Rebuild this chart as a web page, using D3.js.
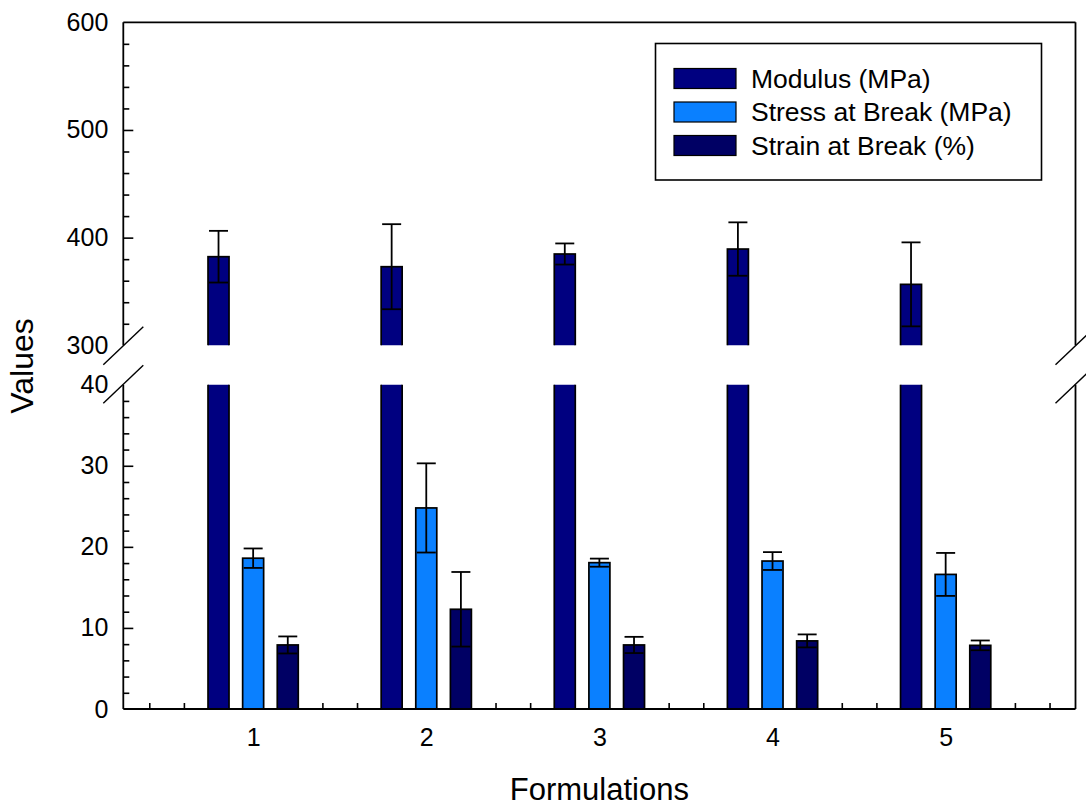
<!DOCTYPE html>
<html>
<head>
<meta charset="utf-8">
<script src="https://cdn.jsdelivr.net/npm/d3@7"></script>
<style>
  html, body { margin: 0; padding: 0; background: #fff; }
  svg { display: block; font-family: "Liberation Sans", Arial, sans-serif; }
</style>
</head>
<body>
<svg id="chart" width="1086" height="808"></svg>
<script>
// Mechanical properties of five formulations (mean ± standard deviation)
const formulations = [1, 2, 3, 4, 5];
const seriesNames = ["Modulus (MPa)", "Stress at Break (MPa)", "Strain at Break (%)"];
const seriesColors = ["#000080", "#0A80FF", "#000064"];

const modulus = [382.3, 373.0, 384.8, 389.4, 356.6];
const modulusErr = [24.0, 39.5, 9.8, 24.8, 39.0];
const stress = [18.6, 24.8, 18.05, 18.25, 16.6];
const stressErr = [1.2, 5.5, 0.5, 1.1, 2.65];
const strain = [7.9, 12.3, 7.9, 8.4, 7.85];
const strainErr = [1.05, 4.6, 1.0, 0.8, 0.6];

const upperTicks = [600, 500, 400, 300];
const lowerTicks = [40, 30, 20, 10, 0];

const svg = d3.select("#chart");

// Layout
const plotLeft = 123.3, plotRight = 1075.5, plotTop = 22.3, plotBottom = 709;
const breakTop = 345.3, breakBottom = 384.7;

const x = d3.scaleLinear().domain([0.25, 5.75]).range([plotLeft, plotRight]);
const yUpper = d3.scaleLinear().domain([300, 600]).range([breakTop, plotTop]);
const yLower = d3.scaleLinear().domain([0, 40]).range([plotBottom, breakBottom]);

const barW = 21;
const offsets = [-0.2, 0, 0.2];

const series = [
  { values: modulus, errs: modulusErr },
  { values: stress, errs: stressErr },
  { values: strain, errs: strainErr }
];

// Clip regions for the two segments of the broken axis
const defs = svg.append("defs");
defs.append("clipPath").attr("id", "clipUpper")
  .append("rect").attr("x", plotLeft).attr("y", plotTop - 10)
  .attr("width", plotRight - plotLeft).attr("height", breakTop - plotTop + 10);
defs.append("clipPath").attr("id", "clipLower")
  .append("rect").attr("x", plotLeft).attr("y", breakBottom)
  .attr("width", plotRight - plotLeft).attr("height", plotBottom - breakBottom + 10);

const bars = [];
series.forEach((s, si) => {
  s.values.forEach((v, i) => {
    bars.push({ si, f: formulations[i], v, e: s.errs[i] });
  });
});

// Pick the segment a value belongs to
function segScale(v) { return v >= 300 ? yUpper : yLower; }

// Lower segment bars (tall ones run past the break and are clipped)
const gLower = svg.append("g").attr("clip-path", "url(#clipLower)");
gLower.selectAll("rect").data(bars).join("rect")
  .attr("x", d => x(d.f + offsets[d.si]) - barW / 2)
  .attr("width", barW)
  .attr("y", d => d.v > 40 ? yLower(45) : yLower(d.v))
  .attr("height", d => yLower(0) - (d.v > 40 ? yLower(45) : yLower(d.v)))
  .attr("fill", d => seriesColors[d.si])
  .attr("stroke", "#000").attr("stroke-width", 1.7);

// Upper segment bars
const upperBars = bars.filter(d => d.v >= 300);
const gUpper = svg.append("g").attr("clip-path", "url(#clipUpper)");
gUpper.selectAll("rect").data(upperBars).join("rect")
  .attr("x", d => x(d.f + offsets[d.si]) - barW / 2)
  .attr("width", barW)
  .attr("y", d => yUpper(d.v))
  .attr("height", d => yUpper(290) - yUpper(d.v))
  .attr("fill", d => seriesColors[d.si])
  .attr("stroke", "#000").attr("stroke-width", 1.7);

// Error bars: stem from mean-err to mean+err with caps at both ends
const gErr = svg.append("g").attr("stroke", "#000").attr("stroke-width", 1.8).attr("fill", "none");
bars.forEach(d => {
  const ys = segScale(d.v);
  const cx = x(d.f + offsets[d.si]);
  const yHi = ys(d.v + d.e), yLo = ys(d.v - d.e);
  gErr.append("line").attr("x1", cx).attr("x2", cx).attr("y1", yHi).attr("y2", yLo);
  gErr.append("line").attr("x1", cx - barW / 2 + 1).attr("x2", cx + barW / 2 - 1).attr("y1", yHi).attr("y2", yHi);
  gErr.append("line").attr("x1", cx - barW / 2 + 1).attr("x2", cx + barW / 2 - 1).attr("y1", yLo).attr("y2", yLo);
});

// Frame: top, bottom and the two broken sides
const frame = svg.append("g").attr("stroke", "#000").attr("stroke-width", 1.8).attr("fill", "none");
frame.append("line").attr("x1", plotLeft).attr("x2", plotRight).attr("y1", plotTop).attr("y2", plotTop);
frame.append("line").attr("x1", plotLeft).attr("x2", plotRight).attr("y1", plotBottom).attr("y2", plotBottom);
[plotLeft, plotRight].forEach(xx => {
  frame.append("line").attr("x1", xx).attr("x2", xx).attr("y1", plotTop).attr("y2", breakTop);
  frame.append("line").attr("x1", xx).attr("x2", xx).attr("y1", breakBottom).attr("y2", plotBottom);
  [breakTop + 0.5, breakBottom - 0.5].forEach(yy => {
    frame.append("line").attr("stroke-width", 1.4)
      .attr("x1", xx - 20).attr("y1", yy + 19)
      .attr("x2", xx + 20).attr("y2", yy - 19);
  });
});

// Axis styling shared by all axis groups
const axisStyle = g => {
  g.select(".domain").remove();
  g.selectAll(".tick line").attr("stroke", "#000").attr("stroke-width", 1.6);
  g.selectAll(".tick text").attr("fill", "#000").attr("font-size", 25)
    .attr("font-family", "'Liberation Sans', Arial, sans-serif");
};

const upperMinor = d3.range(320, 600, 20).filter(v => v % 100 !== 0);
const lowerMinor = d3.range(2, 40, 2).filter(v => v % 10 !== 0);

// Left axis ticks (pointing inward)
svg.append("g").attr("transform", `translate(${plotLeft},0)`)
  .call(d3.axisRight(yUpper).tickValues(upperMinor).tickSize(6).tickFormat(""))
  .call(axisStyle);
svg.append("g").attr("transform", `translate(${plotLeft},0)`)
  .call(d3.axisRight(yLower).tickValues(lowerMinor).tickSize(6).tickFormat(""))
  .call(axisStyle);
svg.append("g").attr("transform", `translate(${plotLeft},0)`)
  .call(d3.axisRight(yUpper).tickValues([500, 400]).tickSize(10).tickFormat(""))
  .call(axisStyle);
svg.append("g").attr("transform", `translate(${plotLeft},0)`)
  .call(d3.axisRight(yLower).tickValues([30, 20, 10]).tickSize(10).tickFormat(""))
  .call(axisStyle);

// Left axis labels
svg.append("g").attr("transform", `translate(${plotLeft},0)`)
  .call(d3.axisLeft(yUpper).tickValues(upperTicks).tickSize(0).tickPadding(15))
  .call(axisStyle);
svg.append("g").attr("transform", `translate(${plotLeft},0)`)
  .call(d3.axisLeft(yLower).tickValues(lowerTicks).tickSize(0).tickPadding(15))
  .call(axisStyle);

// Bottom axis: category labels and small upward ticks between groups
const xMinor = [];
d3.range(0, 6).forEach(n => { xMinor.push(n + 0.4, n + 0.6); });
svg.append("g").attr("transform", `translate(0,${plotBottom})`)
  .call(d3.axisTop(x).tickValues(xMinor).tickSize(6).tickFormat(""))
  .call(axisStyle);
svg.append("g").attr("transform", `translate(0,${plotBottom})`)
  .call(d3.axisBottom(x).tickValues(formulations).tickSize(0).tickPadding(19).tickFormat(d3.format("d")))
  .call(axisStyle);

// Axis titles
svg.append("text")
  .attr("x", x(3)).attr("y", 800)
  .attr("text-anchor", "middle").attr("font-size", 31).attr("fill", "#000")
  .text("Formulations");
svg.append("text")
  .attr("transform", `translate(33,366) rotate(-90)`)
  .attr("text-anchor", "middle").attr("font-size", 32).attr("fill", "#000")
  .text("Values");

// Legend
const lg = svg.append("g");
lg.append("rect").attr("x", 655.5).attr("y", 43.5).attr("width", 386).attr("height", 136.5)
  .attr("fill", "#fff").attr("stroke", "#000").attr("stroke-width", 1.6);
seriesNames.forEach((name, i) => {
  const cy = 78.5 + i * 33.5;
  lg.append("rect").attr("x", 674).attr("y", cy - 10).attr("width", 62).attr("height", 20)
    .attr("fill", seriesColors[i]).attr("stroke", "#000").attr("stroke-width", 1.2);
  lg.append("text").attr("x", 751).attr("y", cy).attr("dy", "0.35em")
    .attr("font-size", 26.5).attr("fill", "#000").text(name);
});
</script>
</body>
</html>
